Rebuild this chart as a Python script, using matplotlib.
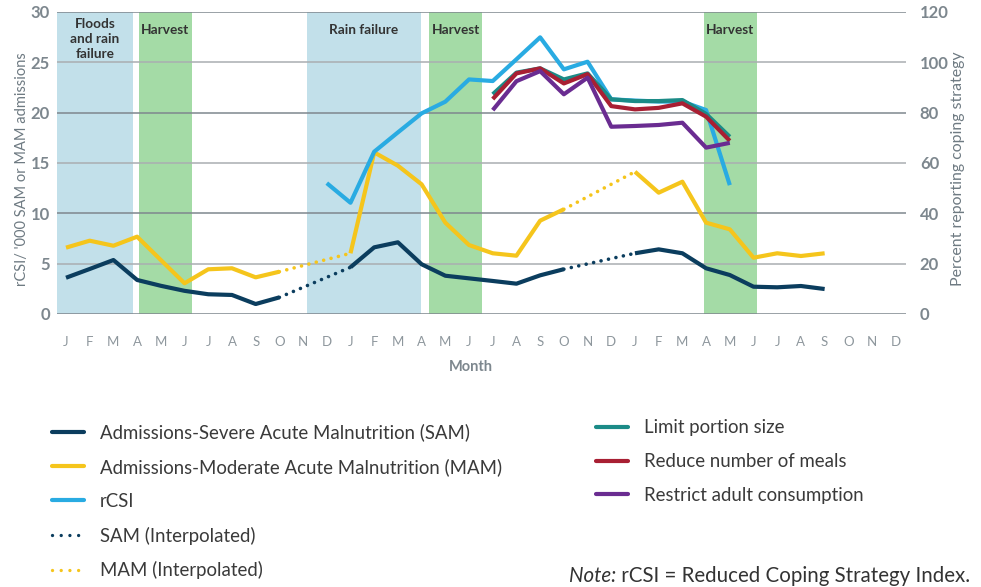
import matplotlib.pyplot as plt
from matplotlib.lines import Line2D
import numpy as np

plt.rcParams['font.family'] = ['Lato', 'DejaVu Sans']

nan = np.nan
months = ['J', 'F', 'M', 'A', 'M', 'J', 'J', 'A', 'S', 'O', 'N', 'D'] * 3

# admissions per '000 (left axis), NaN where no data
sam = [3.6, 4.47, 5.36, 3.38, 2.8, 2.3, 1.96, 1.89, 0.99, 1.65, nan, nan,
       4.64, 6.62, 7.12, 4.94, 3.8, 3.54, 3.28, 3.01, 3.84, 4.45, nan, nan,
       6.03, 6.42, 6.03, 4.54, 3.87, 2.71, 2.65, 2.78, 2.48]
mam = [6.59, 7.28, 6.78, 7.68, 5.36, 3.05, 4.44, 4.54, 3.64, 4.2, nan, nan,
       6.03, 16.05, 14.73, 12.88, 9.07, 6.85, 6.03, 5.79, 9.27, 10.4, nan, nan,
       14.13, 12.05, 13.14, 9.07, 8.41, 5.59, 6.03, 5.76, 6.03]

# interpolated stretches: (from month, to month) and end values
gap_months = [(9, 12), (21, 24)]
sam_gaps = [(1.65, 4.64), (4.45, 6.03)]
mam_gaps = [(4.2, 6.03), (10.4, 14.13)]

# rCSI (left axis) starts in December of year 1
rcsi_start = 11
rcsi = [13.0, 11.05, 16.12, 18.04, 19.93, 21.09, 23.3, 23.14, 25.3, 27.48,
        24.3, 25.06, 21.32, 21.2, 21.1, 21.1, 20.26, 12.8]

# percent reporting coping strategy (right axis), from July of year 2
coping_start = 18
limit_portion = [87.3, 95.9, 97.6, 93.2, 95.6, 85.3, 84.6, 84.6, 85.0, 79.5, 70.4]
reduce_meals = [85.4, 95.6, 97.6, 91.6, 95.3, 82.6, 81.3, 81.9, 83.7, 78.4, 68.8]
restrict_adult = [81.0, 92.5, 96.5, 87.3, 93.9, 74.4, 74.7, 75.1, 76.0, 66.1, 68.0]

# shaded periods (month units)
band_labels = ["Floods\nand rain\nfailure", "Harvest", "Rain failure", "Harvest", "Harvest"]
band_starts = [-0.38, 3.08, 10.15, 15.31, 26.9]
band_ends = [2.83, 5.31, 14.96, 17.55, 29.13]
band_kinds = ['rain', 'harvest', 'rain', 'harvest', 'harvest']

c_sam = '#0b3d5e'
c_mam = '#f5c51c'
c_rcsi = '#29abe2'
c_limit = '#1b8b87'
c_reduce = '#a81f33'
c_restrict = '#6a2c91'
band_colors = {'rain': '#c2e0ea', 'harvest': '#a4dba6'}
tick_col = '#7d878e'

fig = plt.figure(figsize=(9.81, 5.87), dpi=100)
ax = fig.add_axes([0.0581, 0.4651, 0.8654, 0.5145])
ax2 = ax.twinx()

for lab, s, e, k in zip(band_labels, band_starts, band_ends, band_kinds):
    ax.axvspan(s, e, color=band_colors[k], lw=0, zorder=0.5)
    if '\n' in lab:
        ax.text((s + e) / 2, 27.35, lab, ha='center', va='center', fontsize=9.8,
                fontweight='bold', color='#333333', linespacing=1.3, zorder=3)
    else:
        ax.text((s + e) / 2, 28.2, lab, ha='center', va='center', fontsize=9.8,
                fontweight='bold', color='#333333', zorder=3)

for v in range(0, 31, 5):
    ax.axhline(v, color='#7f878e' if v % 10 == 0 else '#aaaeb1', lw=1.1, zorder=1)

x = np.arange(len(sam))
ax.plot(x, sam, color=c_sam, lw=3, solid_capstyle='butt', zorder=4)
ax.plot(x, mam, color=c_mam, lw=3, solid_capstyle='butt', zorder=4)
dot = (0, (0.01, 2.1))
for (g0, g1), sv, mv in zip(gap_months, sam_gaps, mam_gaps):
    ax.plot([g0, g1], sv, color=c_sam, lw=2.6, linestyle=dot, dash_capstyle='round', zorder=4)
    ax.plot([g0, g1], mv, color=c_mam, lw=2.6, linestyle=dot, dash_capstyle='round', zorder=4)
ax.plot(np.arange(rcsi_start, rcsi_start + len(rcsi)), rcsi, color=c_rcsi, lw=3,
        solid_capstyle='butt', zorder=5)

xc = np.arange(coping_start, coping_start + len(limit_portion))
ax2.plot(xc, limit_portion, color=c_limit, lw=3, solid_capstyle='butt')
ax2.plot(xc, reduce_meals, color=c_reduce, lw=3, solid_capstyle='butt')
ax2.plot(xc, restrict_adult, color=c_restrict, lw=3, solid_capstyle='butt')

ax.set_xlim(-0.38, 35.43)
ax.set_ylim(0, 30)
ax2.set_ylim(0, 120)
ax.set_xticks(np.arange(len(months)))
ax.set_xticklabels(months)
ax.set_yticks(range(0, 31, 5))
ax2.set_yticks(range(0, 121, 20))
ax.tick_params(axis='x', length=0, pad=16, labelsize=9.5, labelcolor='#8e979d')
ax.tick_params(axis='y', length=0, pad=5, labelsize=12, labelcolor=tick_col)
ax2.tick_params(axis='y', length=0, pad=10, labelsize=12, labelcolor=tick_col)
for t in ax.get_yticklabels() + ax2.get_yticklabels():
    t.set_fontweight('bold')
for a in (ax, ax2):
    for sp in a.spines.values():
        sp.set_visible(False)

ax.set_xlabel("Month", fontsize=10.5, fontweight='bold', color=tick_col)
ax.xaxis.set_label_coords(0.487, -0.152)
ax.set_ylabel("rCSI/ '000 SAM or MAM admissions", fontsize=10.5, color='#6e7a82')
ax.yaxis.set_label_coords(-0.033, 0.48)
ax2.set_ylabel("Percent reporting coping strategy", fontsize=11.4, color='#6e7a82')
ax2.yaxis.set_label_coords(1.053, 0.48)

leg_dot = (0, (0.01, 2.6))
left_handles = [
    Line2D([], [], color=c_sam, lw=3, solid_capstyle='round'),
    Line2D([], [], color=c_mam, lw=3, solid_capstyle='round'),
    Line2D([], [], color=c_rcsi, lw=3, solid_capstyle='round'),
    Line2D([], [], color=c_sam, lw=2.4, linestyle=leg_dot, dash_capstyle='round'),
    Line2D([], [], color=c_mam, lw=2.4, linestyle=leg_dot, dash_capstyle='round'),
]
left_labels = ["Admissions-Severe Acute Malnutrition (SAM)",
               "Admissions-Moderate Acute Malnutrition (MAM)",
               "rCSI", "SAM (Interpolated)", "MAM (Interpolated)"]
right_handles = [
    Line2D([], [], color=c_limit, lw=3, solid_capstyle='round'),
    Line2D([], [], color=c_reduce, lw=3, solid_capstyle='round'),
    Line2D([], [], color=c_restrict, lw=3, solid_capstyle='round'),
]
right_labels = ["Limit portion size", "Reduce number of meals", "Restrict adult consumption"]

leg_kw = dict(loc='upper left', frameon=False, borderpad=0, borderaxespad=0,
              handlelength=1.72, handletextpad=0.86, labelspacing=0.9,
              prop={'size': 13.4}, labelcolor='#3a3a3a')
fig.legend(left_handles, left_labels, bbox_to_anchor=(0.053, 0.2787), **leg_kw)
fig.legend(right_handles, right_labels, bbox_to_anchor=(0.6075, 0.2855), **leg_kw)

t1 = fig.text(569 / 981, 0.008, "Note:", fontsize=14.8, style='italic', color='#333333',
              va='baseline')
ax.annotate(" rCSI = Reduced Coping Strategy Index.", xy=(1, 0), xycoords=t1,
            fontsize=14.8, color='#333333', va='bottom', annotation_clip=False)

fig.savefig('out.png', dpi=100)
